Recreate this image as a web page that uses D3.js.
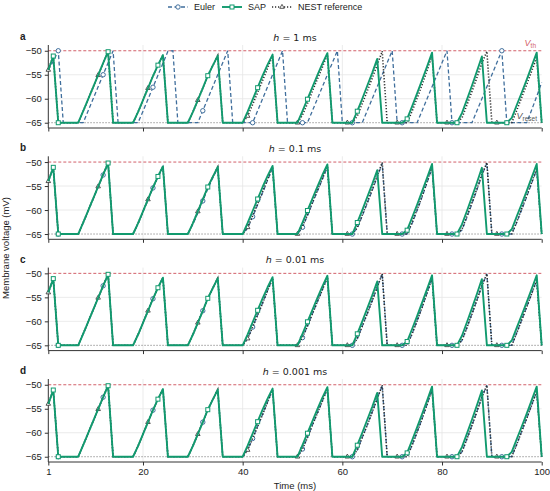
<!DOCTYPE html>
<html><head><meta charset="utf-8">
<script src="https://cdn.jsdelivr.net/npm/d3@7"></script>
<style>
body{margin:0;background:#fff}
text{font-family:"Liberation Sans",Arial,sans-serif;fill:#222}
</style>
</head><body>
<svg id="c" width="550" height="491"></svg>
<script>
// ---------- data (membrane voltage in mV, sampled at t = 1..100 ms) ----------
const timeMs = d3.range(1, 101);

const sapV = [
 -54.0,-51.1,-65,-65,-65,-65,-65,-62.6,-60.1,-57.6,
 -55.1,-52.6,-50.2,-65,-65,-65,-65,-65,-62.8,-60.3,
 -57.8,-55.3,-53.0,-50.9,-65,-65,-65,-65,-65,-62.8,
 -60.3,-57.8,-55.2,-53.1,-51.0,-65,-65,-65,-65,-65,
 -62.7,-60.2,-57.7,-55.2,-52.9,-50.8,-65,-65,-65,-65,
 -65,-62.6,-60.1,-57.6,-55.1,-52.7,-50.5,-65,-65,-65,
 -65,-65,-62.6,-60.0,-57.3,-54.6,-51.7,-65,-65,-65,
 -65,-65,-64.2,-61.6,-58.9,-56.1,-53.3,-50.4,-65,-65,
 -65,-65,-65,-63.0,-60.2,-57.3,-54.3,-51.2,-65,-65,
 -65,-65,-65,-64.0,-61.3,-58.7,-56.0,-53.2,-50.4,-65
];

const nestV = [
 -54.0,-51.1,-65,-65,-65,-65,-65,-62.6,-60.1,-57.6,
 -55.1,-52.6,-50.2,-65,-65,-65,-65,-65,-62.8,-60.3,
 -57.8,-55.3,-53.0,-50.9,-65,-65,-65,-65,-65,-62.8,
 -60.3,-57.8,-55.2,-53.1,-51.0,-65,-65,-65,-65,-65,
 -63.6,-61.2,-58.7,-56.2,-53.6,-51.1,-65,-65,-65,-65,
 -65,-63.4,-61.0,-58.4,-55.9,-53.4,-50.8,-65,-65,-65,
 -65,-65,-63.6,-61.0,-58.4,-55.7,-52.9,-50.1,-65,-65,
 -65,-65,-65,-62.6,-59.9,-57.1,-54.1,-51.0,-65,-65,
 -65,-65,-65,-64.0,-61.3,-58.5,-55.6,-52.6,-50.1,-65,
 -65,-65,-65,-65,-62.4,-59.7,-57.0,-54.2,-51.4,-65
];

const eulerV_h1 = [
 -54.0,-52.2,-50.0,-65,-65,-65,-65,-65,-62.5,-60.0,
 -57.5,-55.0,-52.5,-50.0,-65,-65,-65,-65,-65,-62.6,
 -60.1,-57.6,-55.1,-52.6,-50.1,-50.0,-65,-65,-65,-65,
 -65,-62.5,-60.0,-57.5,-55.0,-52.5,-50.0,-65,-65,-65,
 -65,-65,-62.5,-60.0,-57.5,-55.0,-52.5,-50.0,-65,-65,
 -65,-65,-65,-62.5,-60.0,-57.5,-55.0,-52.5,-50.0,-65,
 -65,-65,-65,-65,-62.5,-60.0,-57.5,-55.0,-52.5,-50.0,
 -65,-65,-65,-65,-65,-62.5,-60.0,-57.5,-55.0,-52.5,
 -50.0,-65,-65,-65,-65,-65,-62.5,-60.0,-57.5,-55.0,
 -52.5,-50.0,-65,-65,-65,-65,-65,-62.3,-59.5,-56.6
];

const eulerV_h01 = [
 -54.0,-51.2,-65,-65,-65,-65,-65,-62.7,-60.2,-57.7,
 -55.2,-52.7,-50.3,-65,-65,-65,-65,-65,-62.9,-60.4,
 -57.9,-55.4,-53.1,-51.0,-65,-65,-65,-65,-65,-63.0,
 -60.6,-58.1,-55.6,-53.3,-51.2,-65,-65,-65,-65,-65,
 -63.8,-61.4,-58.9,-56.4,-53.8,-51.3,-65,-65,-65,-65,
 -65,-63.6,-61.2,-58.6,-56.1,-53.6,-51.0,-65,-65,-65,
 -65,-65,-63.8,-61.2,-58.6,-55.9,-53.1,-50.3,-65,-65,
 -65,-65,-65,-62.8,-60.1,-57.3,-54.3,-51.2,-65,-65,
 -65,-65,-65,-64.2,-61.5,-58.7,-55.8,-52.8,-50.2,-65,
 -65,-65,-65,-65,-62.6,-59.9,-57.2,-54.4,-51.6,-65
];
// at h = 0.01 and 0.001 ms Euler coincides with the NEST reference
const eulerV_h001 = nestV;
const eulerV_h0001 = nestV;

const stepLabels = ["1", "0.1", "0.01", "0.001"];
const panelLetters = ["a", "b", "c", "d"];
const eulerByPanel = [eulerV_h1, eulerV_h01, eulerV_h001, eulerV_h0001];

const sapMarkT = [2, 3, 13, 23, 33, 43, 53, 63, 73, 83, 93];
const eulerMarkT = [3, 12, 22, 32, 42, 52, 62, 72, 82, 92];
const nestMarkT = [1, 11, 21, 31, 41, 51, 61, 71, 81, 91];

const xTicks = [1, 20, 40, 60, 80, 100];
const xGrid = [20, 40, 60, 80];
const yTicks = [-50, -55, -60, -65];
const yGrid = [-55, -60];
const vTh = -50, vReset = -65;

const legendNames = ["Euler", "SAP", "NEST reference"];

// ---------- styles ----------
const C = {
  sap: "#119a6e", euler: "#3f6e9c", nest: "#2e2e2e",
  th: "#d2606a", reset: "#9a9a9a", grid: "#e6e6e6", axis: "#333"
};

const svg = d3.select("#c");
const X0 = 48.3, X1 = 541.7;
const panelTop = [45, 156.3, 267.6, 379];
const PH = 83;

const x = d3.scaleLinear().domain([1, 100]).range([X0, X1]);

function drawMarkers(g, y, vals, ts, shape, color) {
  ts.forEach(t => {
    const v = vals[t - 1];
    const px = x(t), py = y(v);
    if (shape === "square") {
      g.append("rect").attr("x", px - 2).attr("y", py - 2).attr("width", 4).attr("height", 4)
        .attr("fill", "#fff").attr("stroke", color).attr("stroke-width", 1);
    } else if (shape === "circle") {
      g.append("circle").attr("cx", px).attr("cy", py).attr("r", 2.2)
        .attr("fill", "#fff").attr("stroke", color).attr("stroke-width", 1);
    } else {
      g.append("path").attr("d", d3.symbol().type(d3.symbolTriangle).size(9)())
        .attr("transform", `translate(${px},${py})`)
        .attr("fill", "#fff").attr("stroke", color).attr("stroke-width", 0.8);
    }
  });
}

panelTop.forEach((top, i) => {
  const y = d3.scaleLinear().domain([-66.1, -48.8]).range([top + PH, top]);
  const g = svg.append("g");

  // grid
  xGrid.forEach(t => g.append("line").attr("x1", x(t)).attr("x2", x(t))
    .attr("y1", top).attr("y2", top + PH).attr("stroke", C.grid).attr("stroke-width", 0.8));
  yGrid.forEach(v => g.append("line").attr("x1", X0).attr("x2", X1)
    .attr("y1", y(v)).attr("y2", y(v)).attr("stroke", C.grid).attr("stroke-width", 0.8));

  // threshold / reset
  g.append("line").attr("x1", X0).attr("x2", X1).attr("y1", y(vTh)).attr("y2", y(vTh))
    .attr("stroke", C.th).attr("stroke-width", 1).attr("stroke-dasharray", "3,2");
  g.append("line").attr("x1", X0).attr("x2", X1).attr("y1", y(vReset)).attr("y2", y(vReset))
    .attr("stroke", C.reset).attr("stroke-width", 1).attr("stroke-dasharray", "1.5,1.5");

  // axes
  const ya = g.append("g").attr("transform", `translate(${X0},0)`)
    .call(d3.axisLeft(y).tickValues(yTicks).tickSize(3.5).tickPadding(3).tickFormat(d => "\u2212" + Math.abs(d)));
  const xa = g.append("g").attr("transform", `translate(0,${top + PH})`)
    .call(d3.axisBottom(x).tickValues(xTicks).tickSize(3.5).tickPadding(3)
      .tickFormat(i === 3 ? d3.format("d") : ""));
  [ya, xa].forEach(a => {
    a.select(".domain").attr("stroke", C.axis).attr("stroke-width", 1);
    a.selectAll(".tick line").attr("stroke", C.axis);
    a.selectAll("text").attr("font-size", 9.5).attr("fill", "#222")
      .style("font-family", '"Liberation Sans",Arial,sans-serif');
  });
  ya.select(".domain").attr("d", `M0,${top}V${top + PH}`);
  xa.select(".domain").attr("d", `M${X0},0H${X1}`);

  // series: Euler, NEST reference, SAP on top
  const line = vals => d3.line().x((d, k) => x(timeMs[k])).y(d => y(d))(vals);
  const plot = g.append("g");
  plot.append("path").attr("d", line(eulerByPanel[i])).attr("fill", "none")
    .attr("stroke", C.euler).attr("stroke-width", 1.3).attr("stroke-dasharray", "4,2.5");
  drawMarkers(plot, y, eulerByPanel[i], eulerMarkT, "circle", C.euler);
  plot.append("path").attr("d", line(nestV)).attr("fill", "none")
    .attr("stroke", C.nest).attr("stroke-width", 1.6).attr("stroke-dasharray", "1.2,1.8");
  drawMarkers(plot, y, nestV, nestMarkT, "triangle", C.nest);
  plot.append("path").attr("d", line(sapV)).attr("fill", "none")
    .attr("stroke", C.sap).attr("stroke-width", 1.9).attr("stroke-linejoin", "round");
  drawMarkers(plot, y, sapV, sapMarkT, "square", C.sap);

  // title & letter
  const t = g.append("text").attr("x", (X0 + X1) / 2).attr("y", top - 4.5)
    .attr("text-anchor", "middle").attr("font-size", 9.5)
    .style("font-family", '"DejaVu Sans",sans-serif');
  t.append("tspan").attr("font-style", "italic").text("h");
  t.append("tspan").text(" = " + stepLabels[i] + " ms");
  g.append("text").attr("x", 20).attr("y", top - 5).attr("font-size", 10)
    .attr("font-weight", "bold").text(panelLetters[i]);

  if (i === 0) {
    const vt = g.append("text").attr("x", 536).attr("y", y(vTh) - 4.5)
      .attr("text-anchor", "end").attr("font-size", 9).style("fill", C.th);
    vt.append("tspan").attr("font-style", "italic").style("fill", C.th).text("V");
    vt.append("tspan").attr("font-size", 6.5).attr("dy", 2).style("fill", C.th).text("th");
    const vr = g.append("text").attr("x", 537).attr("y", y(vReset) - 4)
      .attr("text-anchor", "end").attr("font-size", 9).style("fill", "#555");
    vr.append("tspan").attr("font-style", "italic").style("fill", "#555").text("V");
    vr.append("tspan").attr("font-size", 6.5).attr("dy", 2).style("fill", "#555").text("reset");
  }
});

// axis titles
svg.append("text").attr("x", (X0 + X1) / 2).attr("y", 489).attr("text-anchor", "middle")
  .attr("font-size", 9.5).text("Time (ms)");
svg.append("text").attr("transform", "translate(9,248) rotate(-90)").attr("text-anchor", "middle")
  .attr("font-size", 9.5).text("Membrane voltage (mV)");

// legend
const lg = svg.append("g").attr("transform", "translate(0,7)");
const legendItems = [
  { name: legendNames[0], x: 168, color: C.euler, dash: "4,2.5", w: 1.3, mark: "circle" },
  { name: legendNames[1], x: 222, color: C.sap, dash: null, w: 1.9, mark: "square" },
  { name: legendNames[2], x: 272, color: C.nest, dash: "1.2,1.8", w: 1.6, mark: "triangle" }
];
legendItems.forEach(it => {
  const ln = lg.append("line").attr("x1", it.x).attr("x2", it.x + 20).attr("y1", 0).attr("y2", 0)
    .attr("stroke", it.color).attr("stroke-width", it.w);
  if (it.dash) ln.attr("stroke-dasharray", it.dash);
  const cx = it.x + 10;
  if (it.mark === "circle") lg.append("circle").attr("cx", cx).attr("cy", 0).attr("r", 2.2)
    .attr("fill", "#fff").attr("stroke", it.color);
  else if (it.mark === "square") lg.append("rect").attr("x", cx - 2).attr("y", -2).attr("width", 4).attr("height", 4)
    .attr("fill", "#fff").attr("stroke", it.color);
  else lg.append("path").attr("d", d3.symbol().type(d3.symbolTriangle).size(9)())
    .attr("transform", `translate(${cx},0)`).attr("fill", "#fff").attr("stroke", it.color).attr("stroke-width", 0.8);
  lg.append("text").attr("x", it.x + 26).attr("y", 3.3).attr("font-size", 9).text(it.name);
});
</script>
</body></html>
